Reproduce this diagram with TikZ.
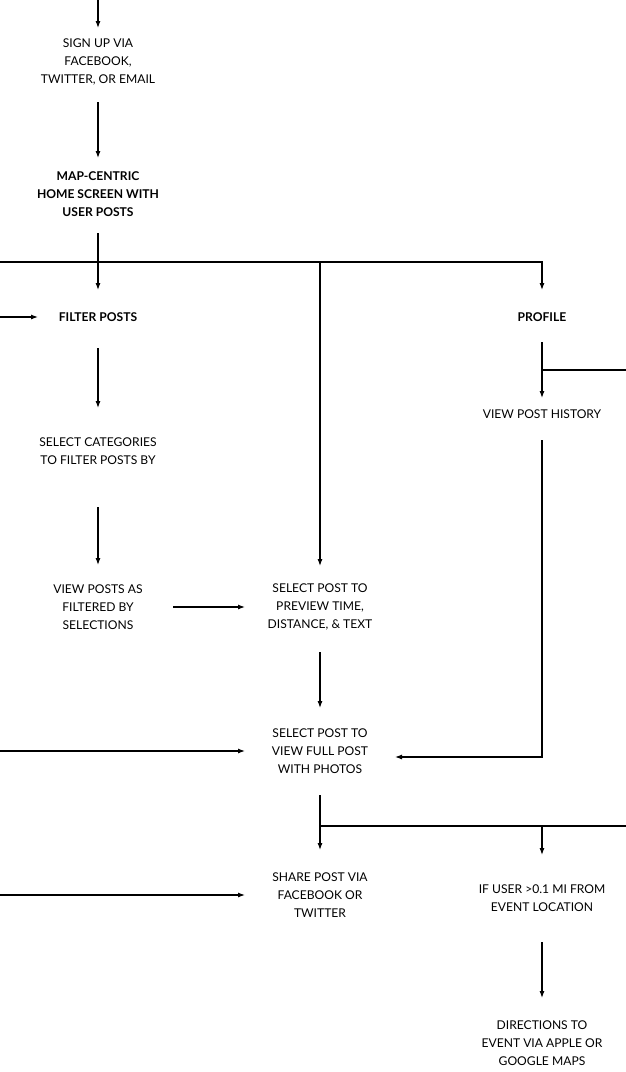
\documentclass[tikz,border=0pt]{standalone}
\usepackage{fontspec}
\setmainfont{Lato}
\usetikzlibrary{arrows.meta}
\begin{document}
\begin{tikzpicture}[x=1pt,y=-1pt,
  lbl/.style={align=center,inner sep=0pt,font=\fontsize{12.1}{18}\selectfont},
  hd/.style={lbl,font=\fontsize{12.1}{18}\selectfont\bfseries},
  arr/.style={line width=1.1pt,-{Latex[length=7pt,width=5pt]}},
  ln/.style={line width=1.1pt}]
\useasboundingbox (0,0) rectangle (626,1072);

% screens
\node[lbl] (signup) at (98,62) {SIGN UP VIA\\FACEBOOK,\\TWITTER, OR EMAIL};
\node[hd]  (home) at (98,194) {MAP-CENTRIC\\HOME SCREEN WITH\\USER POSTS};
\node[hd]  (filter) at (98,317) {FILTER POSTS};
\node[hd]  (profile) at (542,317) {PROFILE};
\node[lbl] (history) at (542,414) {VIEW POST HISTORY};
\node[lbl] (cats) at (98,451) {SELECT CATEGORIES\\TO FILTER POSTS BY};
\node[lbl] (viewposts) at (98,607) {VIEW POSTS AS\\FILTERED BY\\SELECTIONS};
\node[lbl] (preview) at (320,607) {SELECT POST TO\\PREVIEW TIME,\\DISTANCE, \& TEXT};
\node[lbl] (fullpost) at (320,751) {SELECT POST TO\\VIEW FULL POST\\WITH PHOTOS};
\node[lbl] (share) at (320,895) {SHARE POST VIA\\FACEBOOK OR\\TWITTER};
\node[lbl] (ifuser) at (542,898) {IF USER >0.1 MI FROM\\EVENT LOCATION};
\node[lbl] (directions) at (542,1043) {DIRECTIONS TO\\EVENT VIA APPLE OR\\GOOGLE MAPS};

% free ends at the page edges and junctions
\coordinate (inTop) at (98,0);
\coordinate (bus1L) at (0,262);
\coordinate (bus1M) at (320,262);
\coordinate (inFilter) at (0,317);
\coordinate (outProfile) at (626,370);
\coordinate (inFull) at (0,751);
\coordinate (bus2L) at (320,826);
\coordinate (bus2R) at (626,826);
\coordinate (inShare) at (0,895);

% connectors
\draw[arr] (inTop) -- ([yshift=34pt]signup.center);
\draw[arr] ([yshift=-40pt]signup.center) -- ([yshift=36pt]home.center);
\draw[arr] ([yshift=-39pt]home.center) -- ([yshift=27pt]filter.center);
\draw[arr] (bus1L) -| ([yshift=27pt]profile.center);
\draw[arr] (bus1M) -- ([yshift=41pt]preview.center);
\draw[arr] (inFilter) -- ([xshift=-60pt]filter.center);
\draw[arr] ([yshift=-25pt]profile.center) -- ([yshift=16pt]history.center);
\draw[ln] (outProfile) -- (outProfile -| profile);
\draw[arr] ([yshift=-31pt]filter.center) -- ([yshift=43pt]cats.center);
\draw[arr] ([yshift=-56pt]cats.center) -- ([yshift=42pt]viewposts.center);
\draw[arr] ([xshift=75pt]viewposts.center) -- ([xshift=-75pt]preview.center);
\draw[arr] ([yshift=-45pt]preview.center) -- ([yshift=43pt]fullpost.center);
\draw[arr] (inFull) -- ([xshift=-75pt]fullpost.center);
\draw[arr] ([yshift=-26pt]history.center) |- ([xshift=75pt,yshift=-6pt]fullpost.center);
\draw[arr] ([yshift=-44pt]fullpost.center) -- ([yshift=45pt]share.center);
\draw[ln] (bus2L) -- (bus2R);
\draw[arr] (bus2L -| ifuser) -- ([yshift=43pt]ifuser.center);
\draw[arr] (inShare) -- ([xshift=-75pt]share.center);
\draw[arr] ([yshift=-44pt]ifuser.center) -- ([yshift=45pt]directions.center);
\end{tikzpicture}
\end{document}
